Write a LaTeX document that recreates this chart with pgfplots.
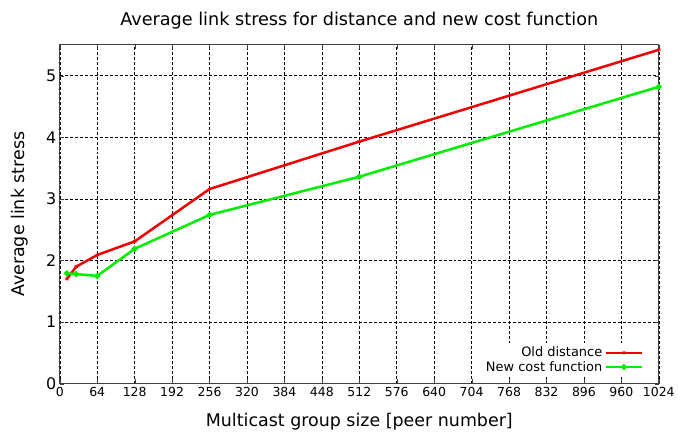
\documentclass[border=0pt]{standalone}
\usepackage{pgfplots}
\pgfplotsset{compat=1.18}
\usepackage{fontspec}
\setmainfont{DejaVu Sans}
\definecolor{oldred}{RGB}{240,0,0}
\definecolor{newgreen}{RGB}{0,238,0}

\begin{document}
\begin{tikzpicture}
\begin{axis}[
    scale only axis, width=601pt, height=340pt,
    xmin=0, xmax=1024, ymin=0, ymax=5.5,
    xtick={0,64,...,1024}, ytick={0,1,...,5},
    /pgf/number format/assume math mode=true,
    /pgf/number format/1000 sep={},
    xticklabel style={font=\fontsize{12.5}{13}\selectfont},
    yticklabel style={font=\fontsize{16}{17}\selectfont},
    grid=major,
    grid style={black, densely dashed, line width=0.6pt},
    axis line style={darkgray, line width=0.8pt},
    tick style={darkgray},
    tick align=inside,
    title={Average link stress for distance and new cost function},
    title style={font=\fontsize{17.7}{18}\selectfont, yshift=6pt},
    xlabel={Multicast group size [peer number]},
    ylabel={Average link stress},
    label style={font=\fontsize{17.5}{18}\selectfont},
    xlabel style={yshift=-10pt},
    ylabel style={yshift=11pt},
    legend style={at={(0.98,0.02)}, anchor=south east, draw=none, fill=white,
        font=\fontsize{13}{14}\selectfont, row sep=-1pt},
    legend plot pos=right,
    legend cell align=right,
    legend image post style={line width=2.5pt},
    legend image code/.code={\draw[#1] (0cm,0cm) -- (1.3cm,0cm) plot coordinates {(0.65cm,0cm)};},
]
\addplot[oldred, line width=2.5pt, mark=asterisk, mark size=2.2pt, mark options={line width=0.6pt}]
    coordinates {(12,1.70) (28,1.90) (64,2.09) (128,2.31) (256,3.16) (512,3.93) (1024,5.42)};
\addlegendentry{Old distance}
\addplot[newgreen, line width=2.5pt, mark=*, mark size=1.6pt]
    coordinates {(12,1.79) (28,1.78) (64,1.75) (128,2.19) (256,2.74) (512,3.36) (1024,4.82)};
\addlegendentry{New cost function}
\end{axis}
\path (current axis.south west) ++(-60pt,-49pt);
\path (current axis.north east) ++(17pt,45pt);
\end{tikzpicture}
\end{document}
